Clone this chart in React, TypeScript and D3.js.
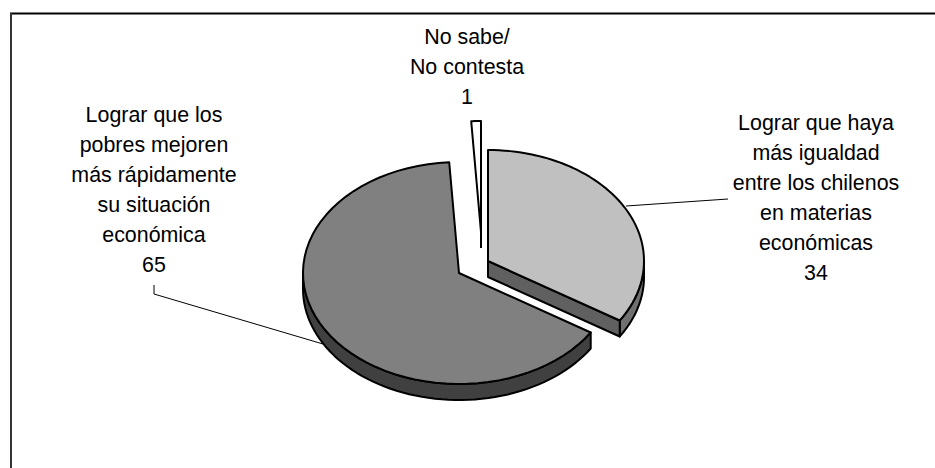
import { useEffect, useRef } from 'react';
import * as d3 from 'd3';

const categories = [
  ['Lograr que haya', 'más igualdad', 'entre los chilenos', 'en materias', 'económicas'],
  ['Lograr que los', 'pobres mejoren', 'más rápidamente', 'su situación', 'económica'],
  ['No sabe/', 'No contesta'],
];
const values = [34, 65, 1];

const topColors = ['#c0c0c0', '#808080', '#ffffff'];
const wallColors = ['#606060', '#404040', '#808080'];
const outerWallColors = ['#707070', '#404040', '#808080'];

const width = 935;
const height = 468;
const rx = 156;
const ry = 111;
const depth = 16;

// exploded slice centres, same order as values
const centers = [
  [488, 261],
  [459, 273],
  [481, 232],
];
// centre line x and first line y of every label
const labelPos = [
  [816, 123],
  [154, 115],
  [467, 37],
];
const lineHeight = 30;

export default function App() {
  const svgRef = useRef<SVGSVGElement>(null);

  useEffect(() => {
    if (!svgRef.current) return;

    const svg = d3.select(svgRef.current);
    svg.selectAll('*').remove(); // Clear previous render

    svg.append('rect').attr('width', width).attr('height', height).attr('fill', '#ffffff');

    // Frame, only top and left are inside the picture
    svg.append('line')
      .attr('x1', 10).attr('y1', 13.5).attr('x2', width).attr('y2', 13.5)
      .attr('stroke', '#000').attr('stroke-width', 2);
    svg.append('line')
      .attr('x1', 11).attr('y1', 13).attr('x2', 11).attr('y2', height)
      .attr('stroke', '#333').attr('stroke-width', 2);

    const arcs = d3.pie<number>().sort(null)(values);
    const line = d3.line<[number, number]>();

    const rim = (c: number[], a: number, dy = 0): [number, number] => [
      c[0] + rx * Math.sin(a),
      c[1] - ry * Math.cos(a) + dy,
    ];
    const sweep = (c: number[], a0: number, a1: number, dy = 0) =>
      d3.range(0, 61).map((i) => rim(c, a0 + ((a1 - a0) * i) / 60, dy));

    // Leader lines
    const leaders: [number, number][][] = [
      [[728, 199], [626, 206]],
      [[154, 285], [154, 294], [323, 344]],
    ];
    leaders.forEach((pts) => {
      svg.append('path')
        .attr('d', line(pts))
        .attr('fill', 'none')
        .attr('stroke', '#000')
        .attr('stroke-width', 1);
    });

    const order = [1, 0, 2];
    order.forEach((i) => {
      const arc = arcs[i];
      const c = centers[i];
      const g = svg.append('g')
        .attr('stroke', '#000')
        .attr('stroke-width', 2)
        .attr('stroke-linejoin', 'round');

      // Visible part of the outer wall is the front half of the ellipse
      const a0 = Math.max(arc.startAngle, Math.PI / 2);
      const a1 = Math.min(arc.endAngle, (Math.PI * 3) / 2);
      if (a1 > a0) {
        const wall = [...sweep(c, a0, a1), ...sweep(c, a1, a0, depth)];
        g.append('path')
          .attr('d', line(wall) + 'Z')
          .attr('fill', outerWallColors[i]);
      }

      // Cut wall facing the viewer
      if (i === 0) {
        const end = rim(c, arc.endAngle);
        g.append('path')
          .attr('d', line([
            [c[0], c[1]],
            end,
            [end[0], end[1] + depth],
            [c[0], c[1] + depth],
          ]) + 'Z')
          .attr('fill', wallColors[i]);
      }
      if (i === 2) {
        g.append('path')
          .attr('d', line([[c[0], c[1]], [c[0], c[1] + depth]]))
          .attr('fill', 'none');
      }

      // Top face
      g.append('path')
        .attr('d', line([[c[0], c[1]], ...sweep(c, arc.startAngle, arc.endAngle)]) + 'Z')
        .attr('fill', topColors[i]);
    });

    // Labels
    categories.forEach((lines, i) => {
      const [x, y] = labelPos[i];
      const text = svg.append('text')
        .attr('text-anchor', 'middle')
        .attr('font-family', '"Liberation Sans", Arial, sans-serif')
        .attr('font-size', 21.4)
        .attr('fill', '#000');
      [...lines, String(values[i])].forEach((s, j) => {
        text.append('tspan')
          .attr('x', x)
          .attr('y', y + j * lineHeight)
          .attr('dy', '0.35em')
          .text(s);
      });
    });
  }, []);

  return (
    <svg
      ref={svgRef}
      width={width}
      height={height}
      viewBox={`0 0 ${width} ${height}`}
      style={{ position: 'absolute', left: 0, top: 0 }}
    />
  );
}
